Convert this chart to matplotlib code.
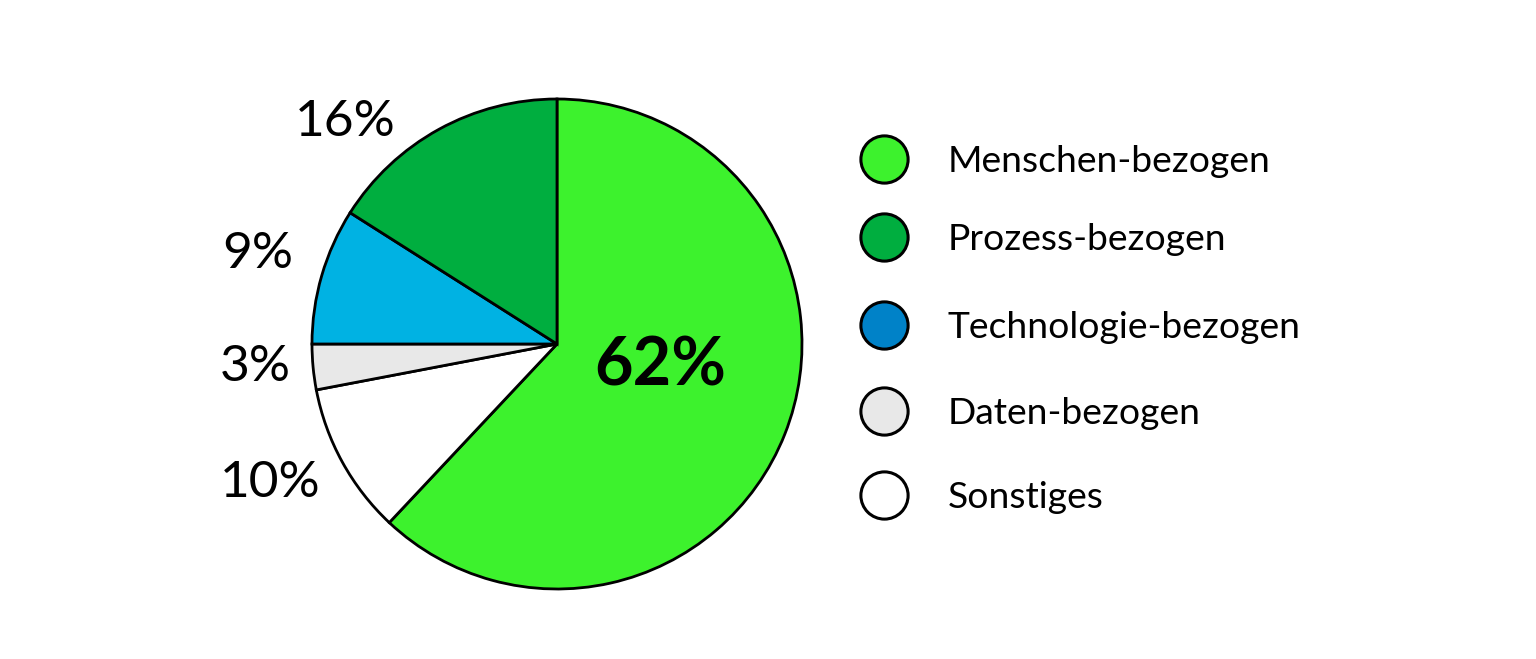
import matplotlib.pyplot as plt

categories = ["Menschen-bezogen", "Prozess-bezogen", "Technologie-bezogen", "Daten-bezogen", "Sonstiges"]
# pie order clockwise from the top
pie_values = [62, 10, 3, 9, 16]
pie_colors = ["#3DF22D", "#FFFFFF", "#E8E8E8", "#00B2E3", "#00AE3F"]
legend_colors = ["#3DF22D", "#00AE3F", "#0082C8", "#E8E8E8", "#FFFFFF"]

plt.rcParams["font.family"] = ["Lato", "DejaVu Sans"]

fig = plt.figure(figsize=(15.36, 6.59), dpi=100)
ax = fig.add_axes([0, 0, 1, 1])

cx, cy, r = 557, 659 - 344, 245
ax.pie(pie_values, colors=pie_colors, startangle=90, counterclock=False,
       center=(cx, cy), radius=r, frame=True,
       wedgeprops=dict(edgecolor="black", linewidth=2.0))
ax.set_xlim(0, 1536)
ax.set_ylim(0, 659)
ax.set_aspect("equal")
ax.axis("off")

# outside labels (offsets relative to pie centre)
label_pos = [(103, -23), (-287, -139), (-302, -23), (-299, 90), (-212, 222)]
for i, (v, (dx, dy)) in enumerate(zip(pie_values, label_pos)):
    if i == 0:
        ax.text(cx + dx, cy + dy, f"{v}%", fontsize=48, fontweight="bold",
                ha="center", va="center")
    else:
        ax.text(cx + dx, cy + dy, f"{v}%", fontsize=37, ha="center", va="center")

# legend
row_y = [159, 237, 325, 411, 495]
for name, col, y in zip(categories, legend_colors, row_y):
    ax.plot(884, 659 - y, "o", ms=34, mfc=col, mec="black", mew=2.2)
    ax.text(948, 659 - y - 2, name, fontsize=26.8, ha="left", va="center")

fig.savefig("out.png", dpi=100)
